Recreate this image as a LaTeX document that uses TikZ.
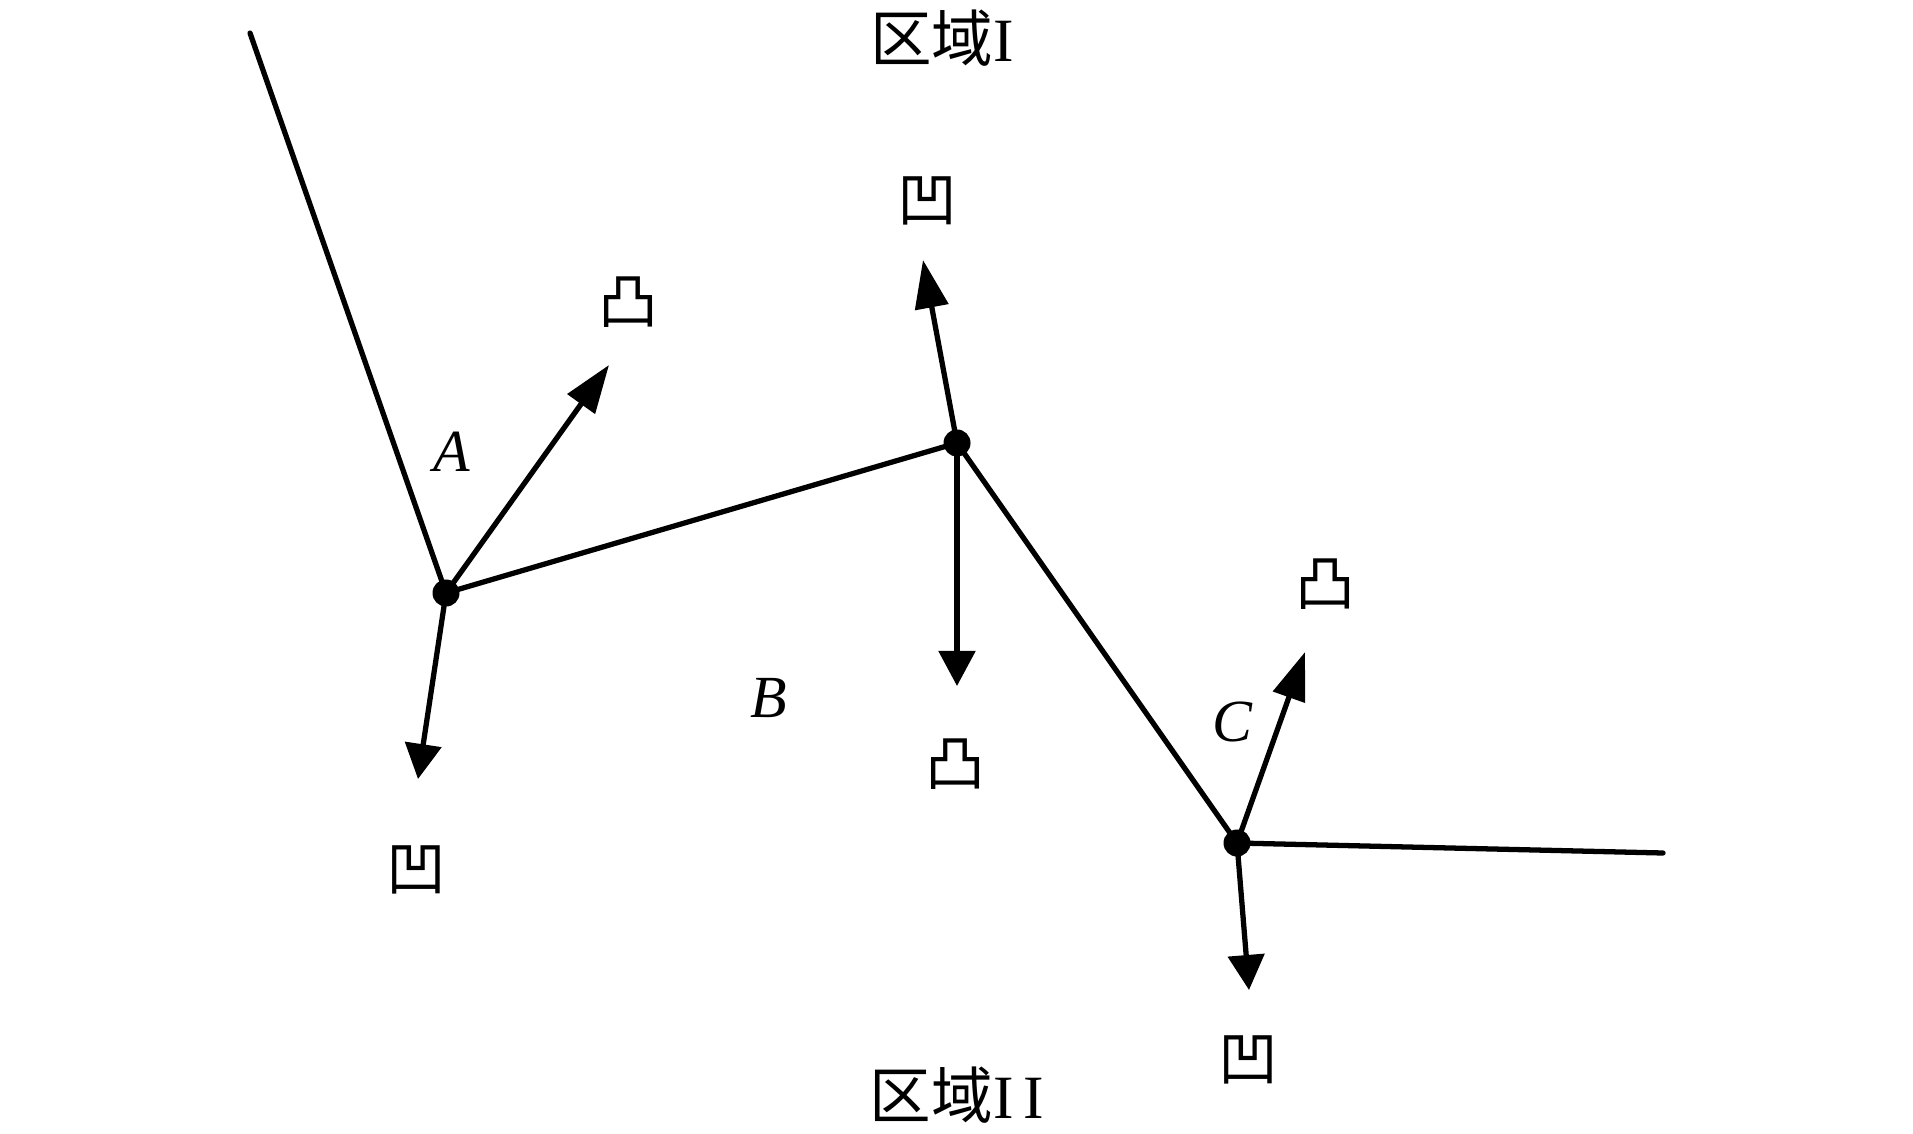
\documentclass[tikz,border=0pt]{standalone}
\usepackage{fontspec}
\setmainfont{Liberation Serif}
\newfontfamily\cjk{Noto Sans CJK SC}
\usetikzlibrary{arrows.meta}
\begin{document}
\begin{tikzpicture}[x=0.01cm,y=-0.01cm,
  edge/.style={line width=1.5pt, line cap=round, line join=round},
  uparrow/.style={edge, -{Triangle[length=0.48cm,width=0.33cm]}},
  downarrow/.style={edge, -{Triangle[length=0.35cm,width=0.36cm]}},
  dot/.style={circle, fill=black, inner sep=0pt, minimum size=0.27cm},
  cjklabel/.style={font=\cjk\fontsize{17pt}{20pt}\selectfont, inner sep=0pt},
  letter/.style={font=\fontsize{17pt}{20pt}\selectfont\itshape, inner sep=0pt},
  region/.style={font=\fontsize{17.5pt}{20pt}\selectfont, inner sep=0pt}]
\useasboundingbox (0,0) rectangle (1913,1134);
% points
\coordinate (P0) at (250,33);
\coordinate (P1) at (1663,853);
\node[dot] (A) at (446,593) {};
\node[dot] (B) at (957,443) {};
\node[dot] (C) at (1237,843) {};
\coordinate (Aup) at (609,365);
\coordinate (Adown) at (418,779);
\coordinate (Bup) at (923,260);
\coordinate (Bdown) at (957,686);
\coordinate (Cup) at (1305,652);
\coordinate (Cdown) at (1249,990);
% polyline
\draw[edge] (P0) -- (A.center) -- (B.center) -- (C.center) -- (P1);
% arrows
\draw[uparrow] (A.center) -- (Aup);
\draw[downarrow] (A.center) -- (Adown);
\draw[uparrow] (B.center) -- (Bup);
\draw[downarrow] (B.center) -- (Bdown);
\draw[uparrow] (C.center) -- (Cup);
\draw[downarrow] (C.center) -- (Cdown);
% labels
\node[region] (r1) at (942,38) {{\cjk 区域}I};
\node[region] (r2) at (957,1095) {{\cjk 区域}I\hspace{0.1cm}I};
\node[cjklabel] (l1) at (927,201) {凹};
\node[cjklabel] (l2) at (628,302) {凸};
\node[cjklabel] (l3) at (416,870) {凹};
\node[cjklabel] (l4) at (955,764) {凸};
\node[cjklabel] (l5) at (1325,584) {凸};
\node[cjklabel] (l6) at (1248,1060) {凹};
\node[letter] (lA) at (452,452) {A};
\node[letter] (lB) at (769,698) {B};
\node[letter] (lC) at (1232,722) {C};
\end{tikzpicture}
\end{document}
